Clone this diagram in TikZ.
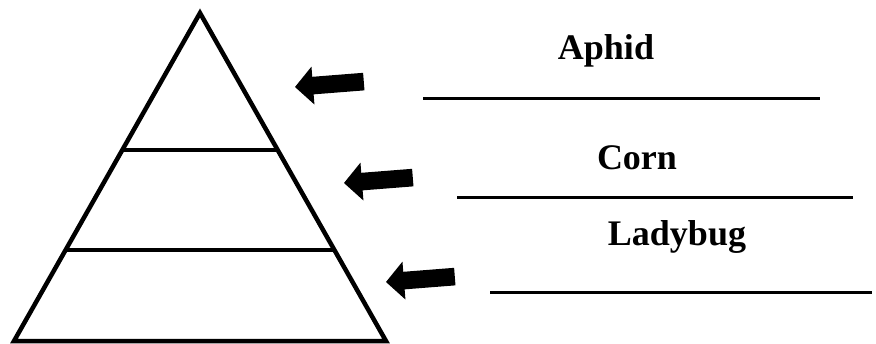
\documentclass[tikz,border=0pt]{standalone}
\usepackage{fontspec}
\setmainfont{Liberation Serif}
\usetikzlibrary{calc}
\begin{document}
\begin{tikzpicture}[x=1pt,y=-1pt,
  tri/.style={line width=4.5pt,line join=miter},
  level/.style={line width=4.5pt},
  answer/.style={line width=3pt},
  lbl/.style={anchor=base,inner sep=0pt,font=\fontsize{36}{40}\selectfont\bfseries},
  fatarrow/.pic={\fill (0,0) -- (18,-19) -- (18,-8.8) -- (69,-8.8) -- (69,8.8) -- (18,8.8) -- (18,19) -- cycle;}]
\useasboundingbox (0,0) rectangle (876,343);
% pyramid
\coordinate (apex) at (200,13);
\coordinate (bl) at (14,341);
\coordinate (br) at (386,341);
\draw[tri] (apex) -- (bl) -- (br) -- cycle;
\coordinate (l1a) at ($(apex)!137/328!(bl)$);
\coordinate (l1b) at ($(apex)!137/328!(br)$);
\coordinate (l2a) at ($(apex)!237/328!(bl)$);
\coordinate (l2b) at ($(apex)!237/328!(br)$);
\draw[level] (l1a) -- (l1b);
\draw[level] (l2a) -- (l2b);
% arrows
\pic[rotate=4.5] at (295,87) {fatarrow};
\pic[rotate=4.5] at (344,183) {fatarrow};
\pic[rotate=4.5] at (386,282) {fatarrow};
% labels and answer lines
\node[lbl] (aphid) at (606,59) {Aphid};
\coordinate (a1) at (423,98);
\coordinate (a2) at (820,98);
\draw[answer] (a1) -- (a2);
\node[lbl] (corn) at (637,169) {Corn};
\coordinate (c1) at (457,197);
\coordinate (c2) at (853,197);
\draw[answer] (c1) -- (c2);
\node[lbl] (lady) at (677,245) {Ladybug};
\coordinate (d1) at (490,292);
\coordinate (d2) at (872,292);
\draw[answer] (d1) -- (d2);
\end{tikzpicture}
\end{document}
